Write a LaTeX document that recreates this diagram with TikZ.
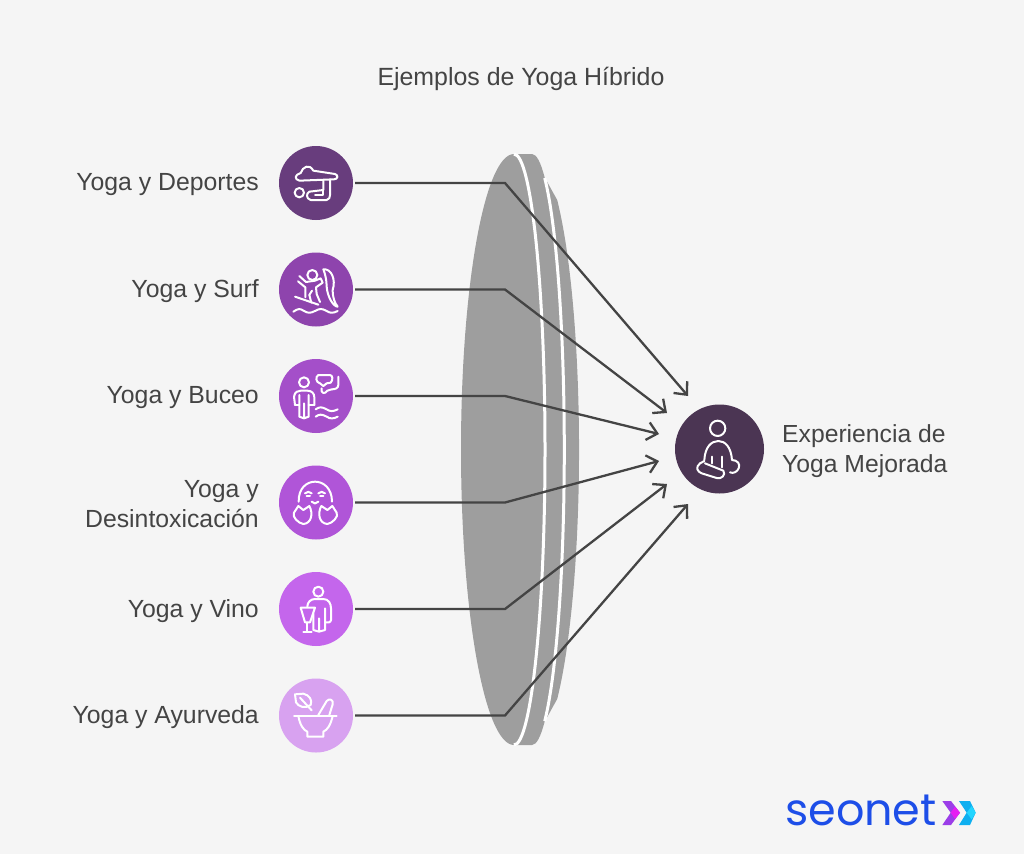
\documentclass[tikz,border=0pt]{standalone}
\usepackage{fontspec}
\setmainfont{Liberation Sans}
\newfontfamily\logofont{Poppins}
\usetikzlibrary{arrows.meta}
\definecolor{pagebg}{HTML}{F5F5F5}
\definecolor{inktext}{HTML}{444444}
\definecolor{lensgray}{HTML}{9E9E9E}
\definecolor{hubfill}{HTML}{4B3553}
\definecolor{logoblue}{HTML}{1D4EE8}
\definecolor{logopurple}{HTML}{9B3DE8}
\definecolor{logomagenta}{HTML}{E61DF2}
\definecolor{logocyan}{HTML}{0EAFF0}
\definecolor{logosky}{HTML}{22D5FF}
\tikzset{
  itemcircle/.style={circle, minimum size=74pt, inner sep=0pt, outer sep=2pt},
  hubcircle/.style={circle, minimum size=89pt, inner sep=0pt, outer sep=0pt, fill=hubfill},
  itemlabel/.style={anchor=east, align=right, text=inktext, inner sep=0pt, font=\fontsize{24.8}{30}\selectfont},
  hublabel/.style={anchor=west, align=left, text=inktext, inner sep=0pt, font=\fontsize{24.7}{30}\selectfont},
  feed/.style={draw=inktext, line width=2.3pt, -{Straight Barb[length=10pt,width=18pt,line width=2.3pt]}},
  icon/.style={draw=white, line width=2pt, line cap=round, line join=round},
  lensgap/.style={draw=white, line width=3pt},
  zoomA/.style={shift={(270,140)}, scale=1/3},
  zoomB/.style={shift={(270,350)}, scale=1/3},
  zoomC/.style={shift={(270,565)}, scale=1/3},
  zoomD/.style={shift={(650,380)}, scale=1/3},
  zoomF/.style={shift={(935,790)}, scale=1/3}
}
\begin{document}
\begin{tikzpicture}[x=1pt, y=-1pt]
\useasboundingbox (0,0) rectangle (1024,854);
\fill[pagebg] (0,0) rectangle (1024,854);

% lens
\fill[lensgray] (514,745) arc[start angle=90, end angle=270, x radius=53, y radius=295.5]
  -- (532,154) arc[start angle=270, end angle=450, x radius=32.3, y radius=295.5] -- cycle;
\fill[lensgray] (545,178) -- (557.2,200) arc[start angle=302.4, end angle=417.6, x radius=47, y radius=295.5] -- (545,721) -- cycle;
\draw[lensgap] (514,154) arc[start angle=270, end angle=450, x radius=31, y radius=295.5];
\draw[lensgap] (544.7,178) arc[start angle=293.2, end angle=426.8, x radius=32.3, y radius=295.5];

\node[text=inktext, inner sep=0pt, font=\fontsize{24.9}{30}\selectfont] (title) at (521,78.5) {Ejemplos de Yoga Híbrido};

\node[itemcircle, fill={rgb,255:red,104;green,61;blue,125}] (deportes) at (316,183) {};
\node[itemcircle, fill={rgb,255:red,142;green,68;blue,173}] (surf) at (316,289.5) {};
\node[itemcircle, fill={rgb,255:red,164;green,79;blue,201}] (buceo) at (316,396) {};
\node[itemcircle, fill={rgb,255:red,176;green,85;blue,216}] (detox) at (316,502.5) {};
\node[itemcircle, fill={rgb,255:red,196;green,102;blue,236}] (vino) at (316,609) {};
\node[itemcircle, fill={rgb,255:red,216;green,162;blue,240}] (ayurveda) at (316,715.5) {};
\node[hubcircle] (hub) at (719.5,449) {};

\node[itemlabel] (lblDeportes) at (259,185) {Yoga y Deportes};
\node[itemlabel] (lblSurf) at (259,291.5) {Yoga y Surf};
\node[itemlabel] (lblBuceo) at (259,398) {Yoga y Buceo};
\node[itemlabel] (lblDetox) at (259,504) {Yoga y\\Desintoxicación};
\node[itemlabel] (lblVino) at (259,611) {Yoga y Vino};
\node[itemlabel] (lblAyurveda) at (259,717.5) {Yoga y Ayurveda};
\node[hublabel] (lblHub) at (782,451) {Experiencia de\\Yoga Mejorada};

\coordinate (bendA) at (505,183);
\coordinate (bendB) at (505,289.5);
\coordinate (bendC) at (505,396);
\coordinate (bendD) at (505,502.5);
\coordinate (bendE) at (505,609);
\coordinate (bendF) at (505,715.5);
\coordinate (endA) at (688,396);
\coordinate (endB) at (667,413);
\coordinate (endC) at (659,434);
\coordinate (endD) at (659,461);
\coordinate (endE) at (667,484);
\coordinate (endF) at (688,504);
\draw[feed] (deportes.east) -- (bendA) -- (endA);
\draw[feed] (surf.east) -- (bendB) -- (endB);
\draw[feed] (buceo.east) -- (bendC) -- (endC);
\draw[feed] (detox.east) -- (bendD) -- (endD);
\draw[feed] (vino.east) -- (bendE) -- (endE);
\draw[feed] (ayurveda.east) -- (bendF) -- (endF);

% deportes icon
\begin{scope}[zoomA]
\draw[icon] (88,122) .. controls (72,118) and (74,104) .. (92,99) .. controls (98,80) and (118,70) .. (130,92) -- (195,102) .. controls (206,105) and (204,118) .. (192,118) -- cycle;
\draw[icon] (160,120) -- (160,150) -- (118,155) .. controls (108,160) and (108,176) .. (122,180) -- (170,180) .. controls (178,178) and (180,172) .. (180,165) -- (180,118);
\draw[icon] (88,158) circle (14);
\draw[icon] (160,150) -- (160,165) -- (135,165);
% surf icon
\draw[icon] (127,405) circle (15);
\draw[icon] (88,408) -- (108,426) -- (135,422) -- (152,415) -- (158,428) -- (138,442) -- (140,462) -- (150,486);
\draw[icon] (84,424) -- (106,442) -- (106,472);
\draw[icon] (124,488) -- (118,465) -- (126,452);
\draw[icon] (75,470) -- (145,494);
\draw[icon] (160,388) .. controls (185,385) and (198,420) .. (188,450) .. controls (188,475) and (195,490) .. (203,500) .. controls (190,500) and (172,470) .. (170,440) .. controls (170,420) and (165,400) .. (160,388) -- cycle;
\draw[icon] (70,515) .. controls (85,505) and (90,505) .. (102,513) .. controls (115,520) and (120,520) .. (135,513) .. controls (150,505) and (155,505) .. (170,513) .. controls (180,520) and (190,520) .. (203,513);
\end{scope}

% buceo icon
\begin{scope}[zoomB]
\draw[icon] (102,97) circle (15);
\draw[icon] (75,165) -- (72,140) .. controls (74,125) and (85,122) .. (92,122) -- (112,122) .. controls (125,122) and (133,130) .. (133,142) -- (133,165);
\draw[icon] (88,135) -- (88,200) -- (102,205) -- (102,160) -- (102,205) -- (116,200) -- (116,135);
\draw[icon] (75,165) -- (88,165);
\draw[icon] (133,165) -- (116,165);
\draw[icon] (145,75) -- (180,75) .. controls (188,75) and (190,90) .. (182,98) -- (170,100) -- (160,108) -- (150,100) .. controls (138,98) and (135,80) .. (145,75) -- cycle;
\draw[icon] (205,80) -- (205,105) .. controls (205,115) and (195,118) .. (185,118) -- (172,122) .. controls (165,135) and (150,128) .. (155,115);
\draw[icon] (137,178) .. controls (148,170) and (155,170) .. (170,178) .. controls (180,185) and (190,185) .. (203,178);
\draw[icon] (137,200) .. controls (148,192) and (155,192) .. (170,200) .. controls (180,207) and (190,207) .. (203,200);
% desintoxicacion icon
\draw[icon] (86,455) .. controls (84,375) and (186,375) .. (186,455);
\draw[icon] (105,430) .. controls (110,424) and (120,424) .. (125,430);
\draw[icon] (145,430) .. controls (150,424) and (160,424) .. (165,430);
\draw[icon] (125,455) .. controls (130,462) and (140,462) .. (145,455);
\draw[icon] (110,438) -- (120,438);
\draw[icon] (150,438) -- (160,438);
\draw[icon] (85,468) -- (100,480) -- (118,468) .. controls (130,490) and (125,520) .. (100,522) .. controls (85,520) and (65,500) .. (72,488) -- cycle;
\draw[icon] (187,468) -- (172,480) -- (154,468) .. controls (142,490) and (147,520) .. (172,522) .. controls (187,520) and (207,500) .. (200,488) -- cycle;
\end{scope}

% vino icon
\begin{scope}[zoomC]
\draw[icon] (145,80) circle (15);
\draw[icon] (112,125) .. controls (112,112) and (122,102) .. (135,102) -- (160,102) .. controls (175,102) and (183,115) .. (183,130) -- (183,165) .. controls (183,172) and (172,175) .. (165,172);
\draw[icon] (92,128) -- (135,128) -- (120,172) -- (105,172) -- cycle;
\draw[icon] (112,172) -- (112,200);
\draw[icon] (100,200) -- (125,200);
\draw[icon] (130,145) -- (130,195) -- (147,200) -- (147,160) -- (147,200) -- (165,195) -- (165,130);
% ayurveda icon
\draw[icon] (75,388) -- (100,386) .. controls (118,390) and (128,405) .. (122,420) .. controls (105,432) and (85,425) .. (78,412) -- cycle;
\draw[icon] (90,398) -- (125,436);
\draw[icon] (72,453) -- (200,453);
\draw[icon] (85,453) .. controls (90,480) and (100,495) .. (112,500) -- (112,515) -- (160,515) -- (160,500) .. controls (172,495) and (182,480) .. (188,453);
\draw[icon] (145,450) -- (170,408) .. controls (178,398) and (192,405) .. (188,418) -- (178,450);
\end{scope}

% hub icon
\begin{scope}[zoomD]
\draw[icon] (203,145) circle (23);
\draw[icon] (163,240) .. controls (165,200) and (185,183) .. (205,183) .. controls (225,183) and (243,200) .. (246,240) .. controls (262,240) and (272,252) .. (266,265) .. controls (262,275) and (250,282) .. (240,277);
\draw[icon] (163,243) -- (150,250) .. controls (135,262) and (142,275) .. (155,280) -- (200,294) .. controls (215,298) and (228,285) .. (220,272) -- (165,250);
\draw[icon] (185,230) -- (185,250);
\draw[icon] (215,230) -- (215,262);
\end{scope}

% logo
\node[anchor=base west, inner sep=0pt, text=logoblue, font=\logofont\fontsize{44.5}{44}\selectfont] (logo) at (785,825) {seonet};
\begin{scope}[zoomF]
\fill[logopurple] (22,33) -- (48,33) -- (75,68) -- (48,105) -- (22,105) -- (47,68) -- cycle;
\fill[logomagenta] (47,68) -- (60,50) -- (75,68) -- (60,87) -- cycle;
\fill[logocyan] (72,33) -- (105,33) -- (122,68) -- (105,105) -- (72,105) -- (95,68) -- cycle;
\fill[logosky] (95,68) -- (110,48) -- (122,68) -- (110,88) -- cycle;
\end{scope}
\end{tikzpicture}
\end{document}
